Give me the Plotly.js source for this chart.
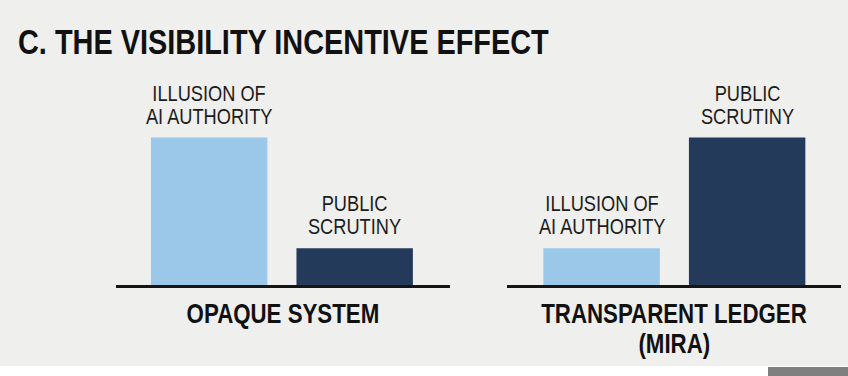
<!DOCTYPE html>
<html>
<head>
<meta charset="utf-8">
<script src="https://cdn.plot.ly/plotly-3.0.1.min.js"></script>
<style>
html,body{margin:0;padding:0;background:#efefed;}
#chart{width:848px;height:376px;}
/* narrow the Liberation Sans glyphs to an Arial-Narrow-like width */
#chart .annotation-text {
  transform-box: fill-box; transform-origin: center; transform: scaleX(0.81);
}
#chart .gtitle {
  transform-box: fill-box; transform-origin: left center; transform: scaleX(0.826);
}
</style>
</head>
<body>
<div id="chart"></div>
<script>
// ---- data ----
const chartTitle = "C. THE VISIBILITY INCENTIVE EFFECT";
const categories = ["ILLUSION OF AI AUTHORITY", "PUBLIC SCRUTINY"];
const barLabels = [["ILLUSION OF", "AI AUTHORITY"], ["PUBLIC", "SCRUTINY"]];
const groupNames = [["OPAQUE SYSTEM"], ["TRANSPARENT LEDGER", "(MIRA)"]];
const opaqueValues = [100, 25];
const transparentValues = [25, 100];

// ---- style ----
const FONT = '"Liberation Sans", Arial, sans-serif';
const LIGHT = '#9bc7e9';
const DARK = '#243a5a';
const barColors = [LIGHT, DARK];

const traces = [
  {type:'bar', x:categories, y:opaqueValues, xaxis:'x', yaxis:'y',
   marker:{color:barColors, line:{width:0}}, width:0.8, hoverinfo:'skip'},
  {type:'bar', x:categories, y:transparentValues, xaxis:'x2', yaxis:'y',
   marker:{color:barColors, line:{width:0}}, width:0.8, hoverinfo:'skip'}
];

const annotations = [];
const LABEL_PITCH = 23;
[[opaqueValues,'x'],[transparentValues,'x2']].forEach(([vals, xr], g) => {
  vals.forEach((v, i) => {
    const lines = barLabels[i];
    lines.forEach((ln, k) => {
      annotations.push({
        xref: xr, yref: 'y', x: categories[i], y: v,
        text: ln, showarrow: false,
        yanchor: 'bottom', yshift: 7 + (lines.length - 1 - k) * LABEL_PITCH,
        font: {family: FONT, size: 22.5, color: '#1c1c1c'}
      });
    });
  });
  // group name under the baseline, centred on the axis domain
  groupNames[g].forEach((ln, k) => {
    annotations.push({
      xref: (xr === 'x' ? 'x domain' : 'x2 domain'), yref: 'y', x: 0.5, y: 0,
      text: ln, showarrow: false, borderpad: 0,
      yanchor: 'top', yshift: -12 - k * 30,
      font: {family: FONT, size: 27.5, color: '#111', weight: 'bold'}
    });
  });
});

function xax(domain, range){
  return {
    domain: domain, range: range, type: 'category',
    showgrid:false, zeroline:false, showticklabels:false, ticks:'',
    showline:true, linecolor:'#151515', linewidth:2.5,
    fixedrange:true
  };
}

const layout = {
  width:848, height:376,
  paper_bgcolor:'#efefed', plot_bgcolor:'rgba(0,0,0,0)',
  margin:{l:0, r:0, t:80, b:91},
  showlegend:false,
  title:{text:chartTitle, x:18/848, xanchor:'left', xref:'paper',
    y:1-42/376, yref:'container', yanchor:'middle',
    font:{family:FONT, size:35, color:'#111', weight:'bold'}},
  xaxis: xax([116/848, 450/848], [-0.64, 1.655]),
  xaxis2: xax([507/848, 841/848], [-0.65, 1.645]),
  yaxis:{range:[0,139], visible:false, fixedrange:true},
  annotations: annotations,
  shapes:[
    {type:'rect', xref:'paper', yref:'paper', x0:-0.001, x1:1.001, y0:-91/205, y1:-(91-10)/205,
     fillcolor:'#ffffff', line:{width:0}, layer:'below'},
    {type:'rect', xref:'paper', yref:'paper', x0:768/848, x1:1.001, y0:-91/205, y1:-(91-9)/205,
     fillcolor:'#7f7f7f', line:{width:0}, layer:'above'}
  ]
};

Plotly.newPlot('chart', traces, layout, {staticPlot:true, displayModeBar:false});
</script>
</body>
</html>
